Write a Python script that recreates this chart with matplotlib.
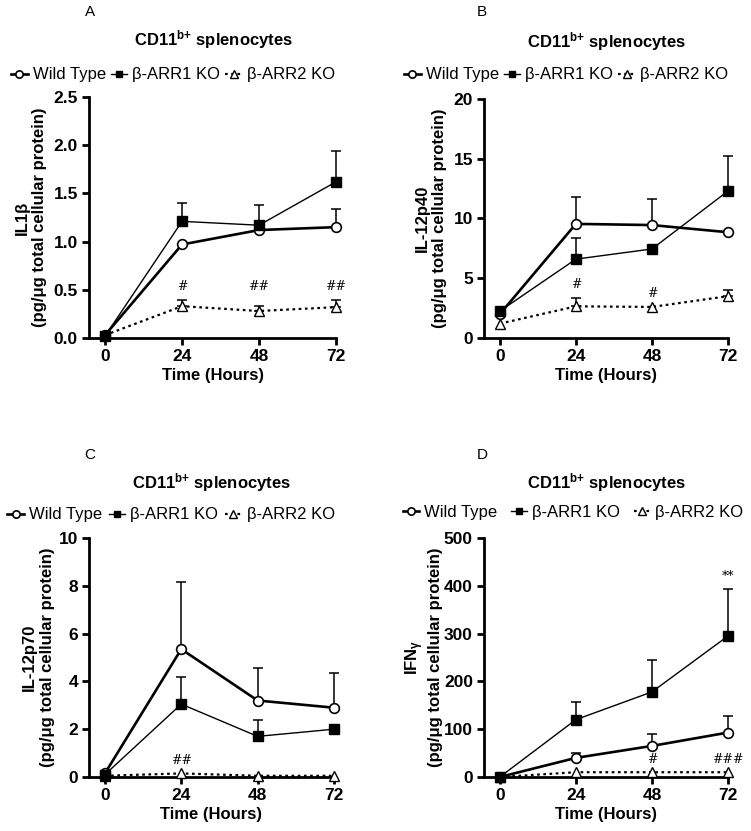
import matplotlib
matplotlib.use('Agg')
import matplotlib.pyplot as plt
import numpy as np

plt.rcParams['font.family'] = ['Liberation Sans', 'DejaVu Sans']
plt.rcParams['mathtext.fontset'] = 'custom'
plt.rcParams['mathtext.rm'] = 'Liberation Sans'
plt.rcParams['mathtext.bf'] = 'Liberation Sans:bold'
plt.rcParams['mathtext.it'] = 'Liberation Sans:italic'

hours = [0, 24, 48, 72]
series_names = ['Wild Type', 'β-ARR1 KO', 'β-ARR2 KO']

# A - IL1b
il1b_wt = [0.03, 0.97, 1.12, 1.15]
il1b_wt_err = [0, 0, 0, 0.19]
il1b_arr1 = [0.02, 1.21, 1.17, 1.62]
il1b_arr1_err = [0, 0.19, 0.21, 0.32]
il1b_arr2 = [0.03, 0.33, 0.28, 0.32]
il1b_arr2_err = [0, 0.06, 0.05, 0.07]
il1b_marks = [(24, 0.47, '#'), (48, 0.47, '##'), (72, 0.47, '##')]

# B - IL-12p40
p40_wt = [2.0, 9.55, 9.45, 8.85]
p40_wt_err = [0, 2.25, 2.15, 0]
p40_arr1 = [2.25, 6.6, 7.45, 12.3]
p40_arr1_err = [0, 1.75, 0, 2.9]
p40_arr2 = [1.2, 2.65, 2.6, 3.5]
p40_arr2_err = [0, 0.7, 0, 0.55]
p40_marks = [(24, 3.9, '#'), (48, 3.2, '#')]

# C - IL-12p70
p70_wt = [0.15, 5.35, 3.2, 2.9]
p70_wt_err = [0, 2.8, 1.35, 1.45]
p70_arr1 = [0.1, 3.05, 1.7, 2.0]
p70_arr1_err = [0, 1.15, 0.7, 0]
p70_arr2 = [0.05, 0.15, 0.05, 0.05]
p70_arr2_err = [0, 0, 0, 0]
p70_marks = [(24, 0.4, '##')]

# D - IFNg
ifng_wt = [0, 40, 65, 93]
ifng_wt_err = [0, 11, 24, 35]
ifng_arr1 = [0, 120, 178, 295]
ifng_arr1_err = [0, 37, 66, 99]
ifng_arr2 = [0, 10, 10, 10]
ifng_arr2_err = [0, 0, 0, 0]
ifng_marks = [(72, 405, '**'), (48, 22, '#'), (72, 22, '###')]

W, H = 751, 831
fig = plt.figure(figsize=(W / 100, H / 100), dpi=100)


def px_axes(l, r, t, b):
    return fig.add_axes([l / W, 1 - b / H, (r - l) / W, (b - t) / H])


panels = [
    dict(box=(89, 336, 97, 338), lab='A', labxy=(90, 12), title_xy=(213, 40), leg_xy=(173, 75),
         ylabel='IL1β\n(pg/μg total cellular protein)', ylx=-0.17, ymax=2.5, ystep=0.5, fmt='%.1f',
         wt=(il1b_wt, il1b_wt_err), a1=(il1b_arr1, il1b_arr1_err), a2=(il1b_arr2, il1b_arr2_err),
         marks=il1b_marks, colsp=0.3),
    dict(box=(484, 728, 99, 338), lab='B', labxy=(482, 12), title_xy=(606, 42), leg_xy=(566, 75),
         ylabel='IL-12p40\n(pg/μg total cellular protein)', ylx=-0.15, ymax=20, ystep=5, fmt='%d',
         wt=(p40_wt, p40_wt_err), a1=(p40_arr1, p40_arr1_err), a2=(p40_arr2, p40_arr2_err),
         marks=p40_marks, colsp=0.3),
    dict(box=(89, 334, 538, 777), lab='C', labxy=(90, 455), title_xy=(211, 483), leg_xy=(171, 515),
         ylabel='IL-12p70\n(pg/μg total cellular protein)', ylx=-0.14, ymax=10, ystep=2, fmt='%d',
         wt=(p70_wt, p70_wt_err), a1=(p70_arr1, p70_arr1_err), a2=(p70_arr2, p70_arr2_err),
         marks=p70_marks, colsp=0.4),
    dict(box=(484, 728, 538, 777), lab='D', labxy=(482, 455), title_xy=(606, 483), leg_xy=(573, 512),
         ylabel='IFN$\\mathregular{_γ}$\n(pg/μg total cellular protein)', ylx=-0.168, ymax=500, ystep=100, fmt='%d',
         wt=(ifng_wt, ifng_wt_err), a1=(ifng_arr1, ifng_arr1_err), a2=(ifng_arr2, ifng_arr2_err),
         marks=ifng_marks, colsp=0.8),
]


def err_up(ax, y, e):
    x = np.array(hours)
    y = np.array(y, dtype=float)
    e = np.array(e, dtype=float)
    m = e > 0
    if m.any():
        ax.errorbar(x[m], y[m], yerr=[np.zeros(m.sum()), e[m]], fmt='none', ecolor='black',
                    elinewidth=1.1, capsize=3.5, capthick=1.1, clip_on=False, zorder=2)


for p in panels:
    ax = px_axes(*p['box'])
    wt, wte = p['wt']
    a1, a1e = p['a1']
    a2, a2e = p['a2']
    err_up(ax, wt, wte)
    err_up(ax, a1, a1e)
    err_up(ax, a2, a2e)
    h1, = ax.plot(hours, wt, color='black', lw=1.9, marker='o', ms=7, mfc='white', mec='black',
                  mew=1.2, clip_on=False, zorder=4, label=series_names[0])
    h2, = ax.plot(hours, a1, color='black', lw=1.0, marker='s', ms=6.5, mfc='black', mec='black',
                  clip_on=False, zorder=5, label=series_names[1])
    h3, = ax.plot(hours, a2, color='black', lw=1.6, ls=(0, (1.2, 1.6)), marker='^', ms=7.5, mfc='white',
                  mec='black', mew=1.0, clip_on=False, zorder=3, label=series_names[2])

    for hx, hy, txt in p['marks']:
        ax.text(hx, hy, txt, ha='center', va='bottom', fontsize=9, family='DejaVu Serif')

    ax.set_xlim(-5, 72)
    ax.set_ylim(0, p['ymax'])
    ax.set_xticks(hours)
    ax.set_yticks(np.arange(0, p['ymax'] + p['ystep'] / 2, p['ystep']))
    ax.yaxis.set_major_formatter(matplotlib.ticker.FormatStrFormatter(p['fmt']))
    for s in ['top', 'right']:
        ax.spines[s].set_visible(False)
    for s in ['left', 'bottom']:
        ax.spines[s].set_linewidth(2)
    ax.tick_params(width=2, length=5, labelsize=12.5, pad=3)
    for t in ax.get_xticklabels() + ax.get_yticklabels():
        t.set_fontweight('bold')
    ax.set_xlabel('Time (Hours)', fontsize=12, fontweight='bold', labelpad=3)
    ax.set_ylabel(p['ylabel'], fontsize=12, fontweight='bold')
    ax.yaxis.set_label_coords(p['ylx'], 0.5)

    fig.text(p['labxy'][0] / W, 1 - p['labxy'][1] / H, p['lab'], ha='center', va='center', fontsize=11)
    fig.text(p['title_xy'][0] / W, 1 - p['title_xy'][1] / H, 'CD11$^{\\mathbf{b{+}}}$ splenocytes',
             ha='center', va='center', fontsize=12, fontweight='bold')
    ax.legend(handles=[h1, h2, h3], loc='center', ncol=3, frameon=False, fontsize=12,
              bbox_to_anchor=(p['leg_xy'][0] / W, 1 - p['leg_xy'][1] / H), bbox_transform=fig.transFigure,
              handlelength=1.0, handletextpad=0.3, columnspacing=p['colsp'], borderpad=0, markerscale=0.75)

fig.savefig('out.png', dpi=100)
